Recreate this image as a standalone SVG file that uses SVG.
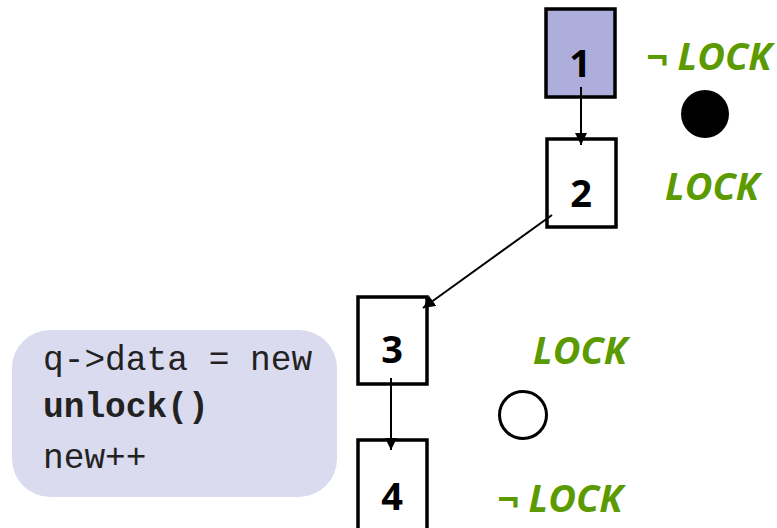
<svg xmlns="http://www.w3.org/2000/svg" width="777" height="528" viewBox="0 0 777 528">
<style>
.node{fill:#fff;stroke:#000;stroke-width:3.5}
.num{font-family:"Open Sans","DejaVu Sans",sans-serif;font-weight:bold;font-size:38px;text-anchor:middle;fill:#000}
.lock{font-family:"Open Sans","DejaVu Sans",sans-serif;font-weight:bold;font-style:italic;font-size:38px;fill:#5B9A00}
.code{font-family:"Liberation Mono","Courier New",monospace;font-size:34.5px;fill:#222}
.edge{stroke:#000;stroke-width:2;fill:none;marker-end:url(#ah)}
</style>
<defs>
<marker id="ah" viewBox="0 0 10 10" refX="10" refY="5" markerWidth="12" markerHeight="12" markerUnits="userSpaceOnUse" orient="auto">
<path d="M0,0 L10,5 L0,10 z" fill="#000"/>
</marker>
</defs>
<rect x="0" y="0" width="777" height="528" fill="#fff"/>
<g id="code">
<rect x="12" y="330" width="325" height="167" rx="38" fill="#DBDBF0"/>
<text class="code" x="43" y="370">q-&gt;data = new</text>
<text class="code" x="43" y="417" font-weight="bold">unlock()</text>
<text class="code" x="43" y="468">new++</text>
</g>
<g id="n1"><rect class="node" x="546" y="9" width="69" height="88" style="fill:#AEAEDC"/><text class="num" x="580" y="77">1</text></g>
<g id="n2"><rect class="node" x="547" y="139" width="69" height="88"/><text class="num" x="581" y="207">2</text></g>
<g id="n3"><rect class="node" x="358" y="297" width="69" height="87"/><text class="num" x="392" y="363">3</text></g>
<g id="n4"><rect class="node" x="358" y="440" width="69" height="100"/><text class="num" x="392" y="510">4</text></g>
<g id="edges">
<line class="edge" x1="581" y1="87" x2="581" y2="145"/>
<line class="edge" x1="552" y1="215" x2="423" y2="308"/>
<line class="edge" x1="391" y1="378" x2="391" y2="450"/>
</g>
<g id="marks">
<circle cx="705" cy="114" r="24" fill="#000"/>
<circle cx="523" cy="415" r="23.5" fill="none" stroke="#000" stroke-width="3"/>
<text class="lock" x="646" y="70">¬ LOCK</text>
<text class="lock" x="665" y="200">LOCK</text>
<text class="lock" x="533" y="364">LOCK</text>
<text class="lock" x="497" y="512">¬ LOCK</text>
</g>
</svg>
